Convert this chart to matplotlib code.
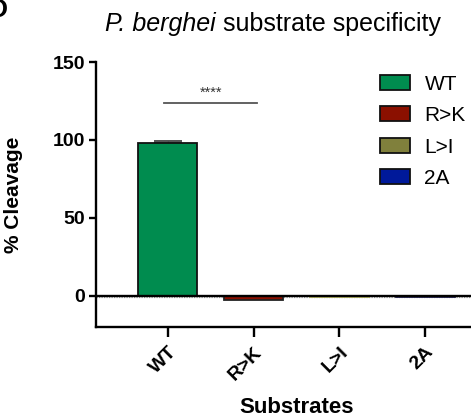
#!/usr/bin/env python3
"""P. berghei substrate specificity bar chart."""

import matplotlib
matplotlib.use("Agg")
import matplotlib.pyplot as plt
from matplotlib.patches import Patch

plt.rcParams["font.family"] = ["Liberation Sans", "DejaVu Sans"]

# --- data ---
substrates = ["WT", "R>K", "L>I", "2A"]
cleavage = [98.0, -3.0, -0.6, -0.6]
cleavage_err = [1.0, 0.3, 0.1, 0.1]
sig_label = "****"
sig_pair = (0, 1)
sig_height = 124

colors = ["#008c4f", "#8b1000", "#80803c", "#00199a"]
edges = ["#111111", "#222222", "#b8b860", "#202050"]

fig = plt.figure(figsize=(4.71, 4.19), dpi=100)
ax = fig.add_axes([0.204, 0.220, 0.796, 0.632])

x = list(range(len(substrates)))
ax.bar(x, cleavage, width=0.69, color=colors, edgecolor=edges, linewidth=1.3, zorder=3)
ax.errorbar(x[:1], cleavage[:1], yerr=[[0], cleavage_err[:1]], fmt="none",
            ecolor="#444444", elinewidth=1.0, capsize=10, capthick=1.3, zorder=2)

# zero lines
ax.axhline(0, color="black", linewidth=1.7, zorder=4)
ax.axhline(-1.0, color="#999999", linewidth=0.9, linestyle=(0, (1, 1)), zorder=1)

# significance bar
x0, x1 = sig_pair
ax.plot([x0 - 0.04, x1 + 0.04], [sig_height, sig_height], color="#555555", linewidth=1.3)
ax.text((x0 + x1) / 2, sig_height + 1.5, sig_label, ha="center", va="bottom",
        fontsize=10.5, color="#333333")

ax.set_xlim(-0.837, 3.535)
ax.set_ylim(-20, 150)
ax.set_yticks([0, 50, 100, 150])
ax.set_xticks(x)
ax.set_xticklabels(substrates, rotation=45, ha="right", rotation_mode="anchor",
                   fontsize=14, fontweight="bold")
for lab in ax.get_yticklabels():
    lab.set_fontweight("bold")
    lab.set_fontsize(14)

for side in ["top", "right"]:
    ax.spines[side].set_visible(False)
for side in ["left", "bottom"]:
    ax.spines[side].set_linewidth(1.7)
ax.tick_params(axis="y", length=5, width=1.7, pad=3)
ax.tick_params(axis="x", length=7, width=1.7, pad=5)

ax.set_ylabel("% Cleavage", fontsize=15, fontweight="bold")
ax.yaxis.set_label_coords(-0.195, 0.5)
ax.set_xlabel("Substrates", fontsize=16, fontweight="bold")
ax.xaxis.set_label_coords(0.536, -0.265)

# title: italic species name followed by plain text
t1 = fig.text(0.223, 0.942, "P. berghei", ha="left", va="center", fontsize=18,
              style="italic")
ax.annotate(" substrate specificity", xy=(1, 0.5), xycoords=t1, ha="left",
            va="center", fontsize=18)
fig.text(-0.026, 1.005, "D", ha="left", va="top", fontsize=19, fontweight="bold")

handles = [Patch(facecolor=c, edgecolor="#111111", linewidth=1.3) for c in colors]
ax.legend(handles, substrates, loc="upper left", bbox_to_anchor=(0.806, 0.822),
          bbox_transform=fig.transFigure, frameon=False, fontsize=15,
          handlelength=1.45, handleheight=0.72, labelspacing=0.6,
          handletextpad=0.7, borderpad=0, borderaxespad=0)

fig.savefig("out.png", dpi=100)
